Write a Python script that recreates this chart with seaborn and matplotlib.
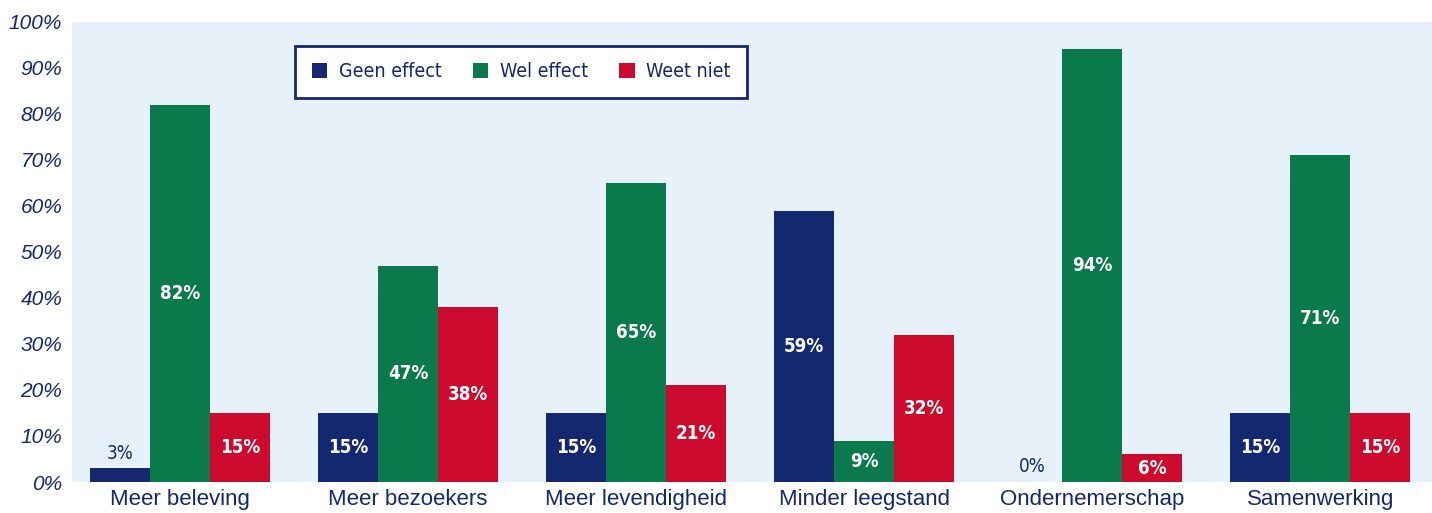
import numpy as np
import pandas as pd
import matplotlib
matplotlib.use('Agg')
import matplotlib.pyplot as plt
import seaborn as sns

# Data
categories = ['Meer beleving', 'Meer bezoekers', 'Meer levendigheid',
              'Minder leegstand', 'Ondernemerschap', 'Samenwerking']
geen_effect = [3, 15, 15, 59, 0, 15]
wel_effect = [82, 47, 65, 9, 94, 71]
weet_niet = [15, 38, 21, 32, 6, 15]
series_names = ['Geen effect', 'Wel effect', 'Weet niet']
y_ticks = list(range(0, 101, 10))

NAVY = '#13286e'
GREEN = '#0a7a4c'
RED = '#cc0a2e'
BG = '#e7f1fa'

df = pd.DataFrame({
    'categorie': categories * 3,
    'reeks': [s for s in series_names for _ in categories],
    'waarde': geen_effect + wel_effect + weet_niet,
})

sns.set_style('white')
plt.rcParams['font.family'] = ['Liberation Sans', 'DejaVu Sans']
COND = dict(family='DejaVu Sans', fontstretch='condensed')

fig = plt.figure(figsize=(14.32, 5.13), dpi=100)
ax = fig.add_axes([0.0503, 0.0604, 0.9497, 0.897])
ax.set_facecolor(BG)

sns.barplot(data=df, x='categorie', y='waarde', hue='reeks',
            hue_order=series_names, order=categories,
            palette=[NAVY, GREEN, RED], width=0.79, saturation=1,
            linewidth=0, ax=ax)

# Value labels
for cont in ax.containers:
    for bar in cont:
        v = bar.get_height()
        xc = bar.get_x() + bar.get_width() / 2
        if v < 5:
            ax.text(xc, v + 1.2, f'{v:.0f}%', ha='center', va='bottom',
                    color=NAVY, fontsize=13.5, **COND)
        else:
            ax.text(xc, v / 2, f'{v:.0f}%', ha='center', va='center',
                    color='white', fontsize=13.5, fontweight='bold', **COND)

ax.set_ylim(0, 100)
ax.set_xlim(-0.474, 5.49)
ax.set_yticks(y_ticks)
ax.set_yticklabels([f'{t}%' for t in y_ticks], fontsize=15, style='italic',
                   color=NAVY)
ax.set_xticks(range(len(categories)))
ax.set_xticklabels(categories, fontsize=16, color=NAVY)
ax.tick_params(axis='y', length=0, pad=7)
ax.tick_params(axis='x', length=0, pad=5)
ax.set_xlabel('')
ax.set_ylabel('')
for s in ax.spines.values():
    s.set_visible(False)

leg = ax.legend(loc='upper left', bbox_to_anchor=(0.164, 0.948), ncol=3,
                frameon=True, fancybox=False,
                prop=dict(size=14, family='DejaVu Sans', stretch='condensed'),
                handlelength=0.8, handleheight=0.8, columnspacing=1.6,
                borderpad=0.85, handletextpad=0.6, borderaxespad=0)
leg.get_frame().set_edgecolor(NAVY)
leg.get_frame().set_linewidth(2)
leg.get_frame().set_facecolor('white')
leg.get_frame().set_alpha(1)
for t in leg.get_texts():
    t.set_color(NAVY)

fig.savefig('out.png', dpi=100)
